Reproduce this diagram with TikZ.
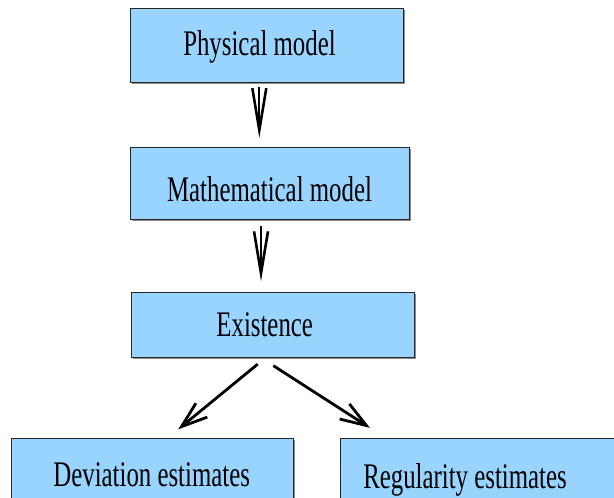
\documentclass[tikz,border=0pt]{standalone}
\usepackage{fontspec}
\setmainfont[FakeStretch=0.69]{Liberation Serif}
\usetikzlibrary{arrows.meta,shadows}
\definecolor{boxblue}{RGB}{153,212,255}
\tikzset{
  box/.style={draw=black!85, line width=0.9pt, fill=boxblue, inner sep=0pt,
    drop shadow={shadow xshift=1.6pt, shadow yshift=-1.6pt, fill=black!55, opacity=0.8}},
  lbl/.style={anchor=base, inner sep=0pt, font=\fontsize{36pt}{40pt}\selectfont},
  varrow/.style={line width=2pt, -{Straight Barb[length=42pt,width=14pt,line width=2.6pt]}},
  darrow/.style={line width=2.8pt, -{Straight Barb[length=26pt,width=18pt]}}
}
\begin{document}
\begin{tikzpicture}[x=1pt,y=-1pt]
\useasboundingbox (0,0) rectangle (614,498);
\clip (0,0) rectangle (614,498);
\node[box, minimum width=273pt, minimum height=74pt] (b1) at (266.5,45) {};
\node[box, minimum width=279pt, minimum height=72pt] (b2) at (269.5,183.5) {};
\node[box, minimum width=283pt, minimum height=65pt] (b3) at (272.8,325.2) {};
\node[box, minimum width=282pt, minimum height=90pt] (b4) at (152.2,483.3) {};
\node[box, minimum width=290pt, minimum height=90pt] (b5) at (485.7,483.3) {};
\node[lbl] (t1) at (259.5,55) {Physical model};
\node[lbl] (t2) at (269.5,201) {Mathematical model};
\node[lbl] (t3) at (264.7,336.7) {Existence};
\node[lbl] (t4) at (151.7,486) {Deviation estimates};
\node[lbl] (t5) at (465,488) {Regularity estimates};
\draw[varrow] ([shift={(-7.2,5)}]b1.south) -- ([shift={(-7.2,-9)}]b1.south |- b2.north);
\draw[varrow] ([shift={(-8.5,6.5)}]b2.south) -- ([shift={(-8.5,-11)}]b2.south |- b3.north);
\draw[darrow] ([shift={(-15.1,6)}]b3.south) -- ([shift={(26,-8.5)}]b4.north);
\draw[darrow] ([shift={(0.5,7.5)}]b3.south) -- ([shift={(-115.7,-10)}]b5.north);
\end{tikzpicture}
\end{document}
